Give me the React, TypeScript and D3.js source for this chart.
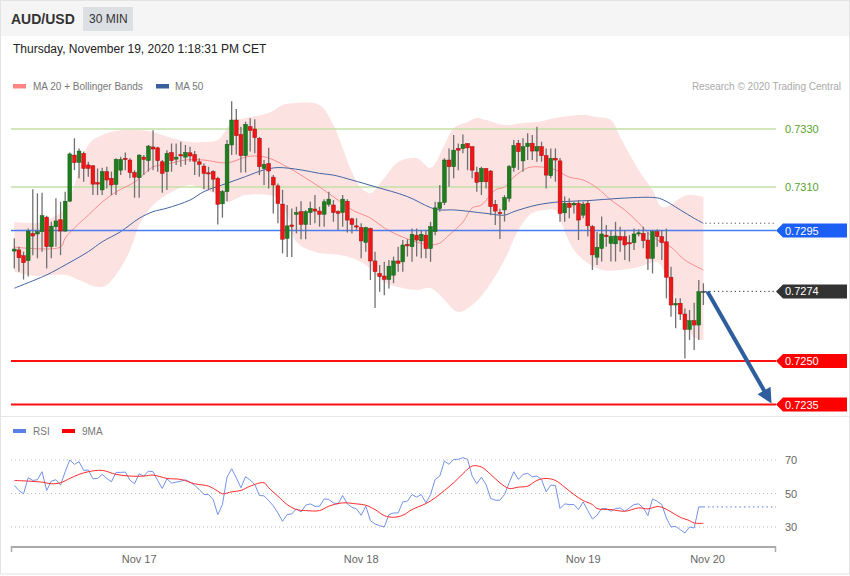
import React, { useEffect } from "react";
import * as d3 from "d3";

// ---------------- DATA ----------------
const candleOpen = [
  0.72879, 0.72883, 0.72863, 0.72846, 0.7294, 0.72938, 0.72946, 0.72996, 0.72894, 0.72963,
  0.72987, 0.72948, 0.73051, 0.7321, 0.73185, 0.73216, 0.73176, 0.73173, 0.73115, 0.7309,
  0.73153, 0.7313, 0.73109, 0.73158, 0.73199, 0.73193, 0.7315, 0.73132, 0.73203, 0.73191,
  0.73238, 0.73235, 0.73187, 0.73153, 0.73219, 0.73196, 0.73212, 0.73203, 0.73218, 0.73212,
  0.73187, 0.73172, 0.73149, 0.73153, 0.7313, 0.73042, 0.73084, 0.73245, 0.73331, 0.73281,
  0.73208, 0.73308, 0.733, 0.73268, 0.73164, 0.73181, 0.73134, 0.73104, 0.73041, 0.72923,
  0.72969, 0.73006, 0.73015, 0.72971, 0.73012, 0.73024, 0.73017, 0.73006, 0.7304, 0.73038,
  0.73015, 0.73012, 0.73051, 0.7299, 0.72966, 0.7296, 0.72909, 0.72957, 0.72845, 0.72802,
  0.72793, 0.72781, 0.72796, 0.72845, 0.72842, 0.72902, 0.72894, 0.72934, 0.72914, 0.72934,
  0.72888, 0.72946, 0.73026, 0.73047, 0.73193, 0.7317, 0.73233, 0.73233, 0.7325, 0.73239,
  0.7315, 0.73118, 0.73164, 0.73155, 0.7304, 0.73012, 0.73021, 0.73061, 0.73167, 0.73251,
  0.7319, 0.73239, 0.73251, 0.73224, 0.73239, 0.73208, 0.73139, 0.73199, 0.7319, 0.73011,
  0.73044, 0.73038, 0.73044, 0.73003, 0.73044, 0.72963, 0.72858, 0.72888, 0.72934, 0.72906,
  0.72904, 0.72929, 0.72929, 0.72908, 0.72908, 0.7294, 0.7294, 0.72917, 0.72854, 0.72946,
  0.72929, 0.72911, 0.72789, 0.72693, 0.72699, 0.72662, 0.72609, 0.72639, 0.72624, 0.7274,
];
const candleHigh = [
  0.72923, 0.72894, 0.72877, 0.72957, 0.73092, 0.73078, 0.7308, 0.73001, 0.7298, 0.73061,
  0.73049, 0.73084, 0.73219, 0.73268, 0.73233, 0.73222, 0.73187, 0.73176, 0.73164, 0.73166,
  0.7317, 0.73153, 0.73199, 0.73204, 0.73219, 0.73199, 0.73158, 0.73213, 0.7321, 0.73245,
  0.73296, 0.73239, 0.73193, 0.73227, 0.7325, 0.7325, 0.73256, 0.73245, 0.73239, 0.73224,
  0.73199, 0.73181, 0.7317, 0.73158, 0.73135, 0.7309, 0.73262, 0.73396, 0.73369, 0.73308,
  0.73325, 0.73337, 0.73334, 0.73273, 0.73193, 0.73235, 0.73141, 0.73112, 0.7309, 0.73038,
  0.73026, 0.73032, 0.73051, 0.7302, 0.73049, 0.73072, 0.73032, 0.73058, 0.73084, 0.73055,
  0.7302, 0.73072, 0.73058, 0.72994, 0.72992, 0.72975, 0.72963, 0.7296, 0.72877, 0.72831,
  0.72842, 0.72848, 0.7286, 0.72894, 0.72917, 0.7292, 0.72957, 0.72957, 0.72952, 0.72952,
  0.7298, 0.73049, 0.73107, 0.73199, 0.73233, 0.73279, 0.7325, 0.73281, 0.7325, 0.73239,
  0.7317, 0.7317, 0.73164, 0.73159, 0.73055, 0.73025, 0.73072, 0.73176, 0.73262, 0.73262,
  0.73268, 0.73285, 0.73279, 0.73308, 0.73256, 0.73233, 0.73233, 0.73233, 0.732, 0.73067,
  0.73061, 0.73049, 0.73055, 0.73049, 0.73055, 0.72969, 0.72946, 0.72998, 0.72969, 0.72952,
  0.7298, 0.72963, 0.72952, 0.72934, 0.72957, 0.72954, 0.72963, 0.72946, 0.72952, 0.72954,
  0.72952, 0.72957, 0.72825, 0.72716, 0.72716, 0.72681, 0.72676, 0.72701, 0.72779, 0.72768,
];
const candleLow = [
  0.72819, 0.72808, 0.72781, 0.72791, 0.72865, 0.72854, 0.72877, 0.72819, 0.72854, 0.72894,
  0.72865, 0.72946, 0.73049, 0.73158, 0.7313, 0.73118, 0.73135, 0.73072, 0.73072, 0.73072,
  0.73095, 0.73072, 0.73072, 0.73141, 0.73158, 0.7313, 0.73063, 0.73063, 0.73141, 0.73153,
  0.73158, 0.73153, 0.7308, 0.7309, 0.73153, 0.73176, 0.7317, 0.73176, 0.73187, 0.73141,
  0.73135, 0.73092, 0.7309, 0.73084, 0.72971, 0.72994, 0.73051, 0.7321, 0.73212, 0.7315,
  0.7315, 0.73222, 0.73216, 0.73141, 0.73107, 0.73095, 0.73009, 0.72975, 0.72871, 0.72859,
  0.72859, 0.7294, 0.7292, 0.7292, 0.72969, 0.72975, 0.72963, 0.72963, 0.73032, 0.7298,
  0.72952, 0.72963, 0.72943, 0.7294, 0.72952, 0.72854, 0.72877, 0.72779, 0.72683, 0.72739,
  0.72727, 0.7275, 0.72768, 0.72808, 0.72808, 0.7286, 0.72842, 0.7286, 0.72854, 0.72854,
  0.72842, 0.72934, 0.73015, 0.73038, 0.73101, 0.7313, 0.73158, 0.73216, 0.73158, 0.7313,
  0.73084, 0.73072, 0.73095, 0.73003, 0.72969, 0.72921, 0.72981, 0.73049, 0.73153, 0.73159,
  0.73153, 0.73193, 0.73193, 0.73187, 0.73187, 0.73095, 0.7313, 0.73118, 0.7298, 0.7298,
  0.72992, 0.73009, 0.72917, 0.72992, 0.72929, 0.72814, 0.72831, 0.72843, 0.72894, 0.72843,
  0.72843, 0.72877, 0.72848, 0.72843, 0.72883, 0.72929, 0.72889, 0.72814, 0.72802, 0.72894,
  0.72848, 0.72716, 0.72653, 0.72613, 0.72641, 0.72509, 0.72572, 0.72538, 0.72572, 0.72693,
];
const candleClose = [
  0.72886, 0.72856, 0.72839, 0.72948, 0.72931, 0.72946, 0.73001, 0.72894, 0.72965, 0.72983,
  0.72948, 0.73051, 0.73214, 0.73184, 0.73224, 0.73164, 0.73164, 0.7311, 0.7311, 0.73153,
  0.73124, 0.73107, 0.73195, 0.73195, 0.73195, 0.7315, 0.73134, 0.7321, 0.73195, 0.73241,
  0.73231, 0.73191, 0.73147, 0.73216, 0.73191, 0.73203, 0.73207, 0.73219, 0.73207, 0.73189,
  0.73178, 0.73147, 0.73146, 0.73127, 0.7304, 0.73084, 0.73247, 0.73331, 0.73277, 0.73208,
  0.73316, 0.73295, 0.7327, 0.7317, 0.73178, 0.73155, 0.73107, 0.73043, 0.7292, 0.72966,
  0.72964, 0.73012, 0.72971, 0.73015, 0.73026, 0.73017, 0.73006, 0.73049, 0.73058, 0.73012,
  0.73009, 0.73058, 0.72986, 0.72971, 0.72962, 0.72914, 0.7296, 0.72845, 0.72808, 0.72791,
  0.72781, 0.72827, 0.72845, 0.72837, 0.729, 0.72897, 0.72937, 0.72917, 0.72937, 0.72888,
  0.72963, 0.73028, 0.73047, 0.73193, 0.7317, 0.73227, 0.73227, 0.73247, 0.73235, 0.73158,
  0.73116, 0.73164, 0.73118, 0.73032, 0.73017, 0.73008, 0.73063, 0.7317, 0.73243, 0.73222,
  0.73239, 0.73251, 0.73224, 0.73239, 0.73208, 0.73141, 0.73199, 0.73193, 0.73009, 0.73044,
  0.7303, 0.73044, 0.72986, 0.73041, 0.72966, 0.72866, 0.72892, 0.72938, 0.72929, 0.72929,
  0.72931, 0.72917, 0.729, 0.72904, 0.72938, 0.72942, 0.72915, 0.72854, 0.72946, 0.72929,
  0.72908, 0.72789, 0.72693, 0.72699, 0.72662, 0.72609, 0.72639, 0.72624, 0.72739, 0.7274,
];

// Bollinger bands (MA 20) at sample candles
const upperIdx = [0, 5, 8, 11, 13, 16, 19, 24, 29, 34, 38, 41, 44, 46, 47, 50, 55, 58, 61, 66, 69, 71, 73, 75, 77, 80, 83, 87, 90, 93, 95, 98, 100, 102, 106, 110, 113, 117, 123, 126, 129, 131, 135, 138, 140, 142, 144, 146, 149];
const upperVal = [0.72979, 0.72976, 0.72993, 0.73028, 0.73107, 0.73245, 0.73279, 0.73297, 0.73293, 0.73269, 0.73255, 0.73255, 0.73262, 0.73303, 0.73324, 0.73338, 0.73355, 0.73383, 0.7339, 0.73383, 0.73314, 0.73234, 0.73152, 0.73097, 0.73079, 0.73131, 0.73186, 0.732, 0.73166, 0.73245, 0.73303, 0.73324, 0.73338, 0.73331, 0.73314, 0.73321, 0.73324, 0.73338, 0.73348, 0.73341, 0.73331, 0.73272, 0.73159, 0.7309, 0.73031, 0.73038, 0.73062, 0.73072, 0.73066];
const lowerIdx = [0, 5, 11, 14, 18, 20, 24, 26, 27, 30, 34, 38, 40, 44, 46, 50, 57, 59, 61, 65, 70, 73, 76, 80, 83, 87, 90, 92, 96, 99, 102, 106, 109, 112, 115, 117, 118, 121, 124, 127, 131, 135, 139, 141, 144, 147, 149];
const lowerVal = [0.72807, 0.72793, 0.72797, 0.72779, 0.72755, 0.72762, 0.72848, 0.72924, 0.72969, 0.73038, 0.73083, 0.73107, 0.73097, 0.73072, 0.73048, 0.73072, 0.73062, 0.73003, 0.7291, 0.72876, 0.72866, 0.72855, 0.72831, 0.72772, 0.72755, 0.72745, 0.72752, 0.72728, 0.72669, 0.72693, 0.72745, 0.72848, 0.72952, 0.7301, 0.73021, 0.73021, 0.72986, 0.72883, 0.72838, 0.72814, 0.72814, 0.72824, 0.72841, 0.7279, 0.72676, 0.72583, 0.72572];
const ma20Idx = [0, 10, 11, 13, 16, 19, 22, 26, 30, 33, 37, 41, 46, 50, 52, 55, 59, 62, 66, 70, 73, 77, 80, 83, 87, 90, 92, 94, 97, 99, 101, 104, 106, 108, 111, 114, 117, 120, 123, 126, 129, 132, 135, 138, 142, 145, 149];
const ma20Val = [0.72893, 0.72893, 0.72924, 0.72959, 0.73003, 0.73048, 0.73083, 0.73117, 0.73169, 0.73179, 0.73193, 0.73193, 0.73183, 0.73203, 0.73207, 0.732, 0.73169, 0.73141, 0.731, 0.73055, 0.73021, 0.72993, 0.72959, 0.72934, 0.7291, 0.729, 0.72907, 0.72934, 0.72979, 0.73028, 0.73038, 0.7309, 0.731, 0.73134, 0.73166, 0.73169, 0.73159, 0.73134, 0.73124, 0.73097, 0.73055, 0.73021, 0.72976, 0.72928, 0.72893, 0.72848, 0.72814];
const ma50Idx = [0, 7, 11, 16, 19, 23, 27, 30, 33, 38, 41, 46, 50, 54, 57, 62, 66, 69, 73, 78, 85, 90, 92, 95, 102, 106, 108, 113, 118, 124, 131, 138, 140, 144, 147, 149];
const ma50Val = [0.72751, 0.72797, 0.72831, 0.72877, 0.72911, 0.72946, 0.72992, 0.73015, 0.73027, 0.73055, 0.73084, 0.73113, 0.73136, 0.73159, 0.73167, 0.73159, 0.73147, 0.73141, 0.73124, 0.73101, 0.73067, 0.73029, 0.73021, 0.73021, 0.73009, 0.73003, 0.73015, 0.73038, 0.73049, 0.73053, 0.73061, 0.73064, 0.73058, 0.73021, 0.72992, 0.72975];

// RSI (one value per candle) and its 9-period MA (sampled)
const rsiValues = [
  54.8, 51.8, 49.8, 59.4, 57.8, 58.2, 63, 51.8, 57.4, 58.2,
  55, 63, 70, 67.4, 69, 63.8, 64, 58.8, 59, 61.4,
  59, 57, 62.6, 62.6, 62.8, 58, 55.8, 61.8, 60.4, 63.4,
  63, 57.8, 53, 58.8, 56.2, 56.8, 57.4, 58.2, 56.8, 54.8,
  52.4, 49.4, 49.4, 46.4, 37.4, 43.4, 59.8, 64.8, 59.4, 53.4,
  60, 58, 55.4, 48.8, 48.6, 45.8, 42.6, 38.4, 33.4, 37.4,
  37.8, 40.8, 39, 43, 43.8, 42.4, 42.4, 46.8, 46.4, 44.4,
  43.8, 48.8, 43.8, 41.8, 40.8, 37, 42.4, 33.8, 31.8, 30.8,
  30, 37.4, 38.4, 38.4, 45, 45.4, 49.4, 47.8, 49.4, 44.4,
  49.4, 58.4, 60.4, 69.4, 67.4, 70.4, 70.4, 71.4, 70.4, 60.4,
  55.8, 59.8, 55.4, 47, 46, 46, 49.4, 56.4, 63, 58.4,
  61.4, 62, 60, 60.4, 58.4, 51, 55, 54.8, 41, 43.8,
  43.4, 43.4, 40.4, 45, 39.8, 34.8, 37, 41, 41, 39.4,
  41, 41.4, 39.4, 41.4, 43.4, 43.8, 41.4, 36.8, 46.8, 45.4,
  43.4, 35.4, 30, 30.4, 28.4, 26.4, 30, 29.4, 42, 42,
];
const rsiMaIdx = [0, 3, 6, 8, 10, 12, 14, 16, 19, 22, 25, 28, 30, 33, 36, 39, 42, 44, 45, 47, 49, 51, 54, 55, 57, 59, 61, 63, 66, 68, 71, 74, 76, 78, 80, 82, 84, 86, 89, 91, 93, 95, 97, 99, 101, 103, 105, 107, 109, 111, 113, 115, 117, 119, 121, 123, 125, 126, 129, 132, 135, 137, 139, 140, 142, 144, 146, 147, 149];
const rsiMaVal = [57.8, 57.4, 56.8, 55.8, 56.4, 59, 61.4, 63, 63.8, 61.4, 60.4, 60.4, 61, 59, 58.4, 55.8, 54.4, 51.4, 49.8, 51, 51.8, 54.4, 56.4, 53.4, 48.4, 43.4, 40.4, 39.8, 39.8, 42.4, 44.4, 43.8, 43, 40.4, 36.8, 35.8, 37, 40.4, 44, 47.4, 51.8, 56.4, 61.8, 66.4, 65.8, 61.4, 56.4, 53, 53.8, 54.4, 57.8, 59, 57.8, 53.8, 49.4, 45.8, 43.4, 41, 40.4, 39.4, 41.4, 40.8, 42.2, 41.8, 39, 35.8, 33.8, 32.4, 32.2];

// Levels
const resistanceLevels = [0.733, 0.731];
const pivotLevel = 0.7295;
const lastPrice = 0.7274;
const supportLevels = [0.725, 0.7235];
const rsiTicks = [70, 50, 30];
const xTickIndex = [27, 75, 123, 149.9];
const xTickLabels = ["Nov 17", "Nov 18", "Nov 19", "Nov 20"];

// ---------------- CHART ----------------
const W = 850;
const H = 576;
const FONT = "'Liberation Sans', Arial, Helvetica, sans-serif";

function LabelBox({ yc, text, fill }: { yc: number; text: string; fill: string }) {
  const x0 = 776;
  const pts = [
    [x0, yc],
    [x0 + 7, yc - 7],
    [847, yc - 7],
    [847, yc + 7],
    [x0 + 7, yc + 7],
  ]
    .map((p) => p.join(","))
    .join(" ");
  return (
    <g>
      <polygon points={pts} fill={fill} />
      <text x={785} y={yc + 4} fontSize={11} fill="#fff" fontFamily={FONT}>
        {text}
      </text>
    </g>
  );
}

export default function App() {
  useEffect(() => {
    document.body.style.margin = "0";
  }, []);

  const n = candleOpen.length;
  const x = d3.scaleLinear().domain([0, n - 1]).range([14.3, 703.4]);
  const y = d3.scaleLinear().domain([0.7235, 0.733]).range([404.5, 129]);
  const yr = d3.scaleLinear().domain([30, 70]).range([527, 460]);
  const L = 11;
  const R = 776;

  const lineGen = d3.line<[number, number]>().curve(d3.curveCatmullRom.alpha(0.5));
  const upPts: [number, number][] = upperIdx.map((d, k) => [x(d), y(upperVal[k])]);
  const loPts: [number, number][] = lowerIdx.map((d, k) => [x(d), y(lowerVal[k])] as [number, number]).reverse();
  const upPath = lineGen(upPts) || "";
  const loPath = lineGen(loPts) || "";
  const bandPath = upPath + "L" + loPath.slice(1) + "Z";
  const ma20Path = lineGen(ma20Idx.map((d, k) => [x(d), y(ma20Val[k])] as [number, number])) || "";
  const ma50Path = lineGen(ma50Idx.map((d, k) => [x(d), y(ma50Val[k])] as [number, number])) || "";

  const rsiLine = d3.line<number>().x((_, i) => x(i)).y((v) => yr(v));
  const rsiPath = rsiLine(rsiValues) || "";
  const rsiMaPath =
    lineGen(rsiMaIdx.map((d, k) => [x(d), yr(rsiMaVal[k])] as [number, number])) || "";

  const lastX = x(n - 1);
  const ma50Last = y(ma50Val[ma50Val.length - 1]);
  const rsiLast = yr(rsiValues[rsiValues.length - 1]);

  // forecast arrow
  const ax0 = lastX + 4;
  const ay0 = y(lastPrice);
  const ax1 = R - 4.5;
  const ay1 = y(supportLevels[1]) - 1;
  const dx = ax1 - ax0;
  const dy = ay1 - ay0;
  const len = Math.sqrt(dx * dx + dy * dy);
  const ux = dx / len;
  const uy = dy / len;
  const headL = 15;
  const headW = 7.5;
  const bx = ax1 - ux * headL;
  const by = ay1 - uy * headL;
  const headPts = [
    [ax1, ay1],
    [bx - uy * headW, by + ux * headW],
    [bx + uy * headW, by - ux * headW],
  ]
    .map((p) => p.join(","))
    .join(" ");

  const green = "#1f7d1f";
  const red = "#ee1616";

  return (
    <svg
      width={W}
      height={H}
      viewBox={`0 0 ${W} ${H}`}
      style={{ position: "absolute", left: 0, top: 0, display: "block", background: "#fff" }}
      fontFamily={FONT}
    >
      {/* header */}
      <rect x={0} y={0} width={W} height={36} fill="#f5f5f5" />
      <text x={11} y={24} fontSize={14} fontWeight="bold" fill="#333">
        AUD/USD
      </text>
      <rect x={83} y={7} width={50} height={24} fill="#dcdfe4" />
      <text x={89} y={23} fontSize={12} fill="#333">
        30 MIN
      </text>
      <text x={13} y={53} fontSize={12} fill="#222">
        Thursday, November 19, 2020 1:18:31 PM CET
      </text>

      {/* legend */}
      <rect x={13} y={84} width={13} height={4.5} fill="#ff8585" />
      <text x={33} y={90} fontSize={10} fill="#777">
        MA 20 + Bollinger Bands
      </text>
      <rect x={156} y={84} width={13} height={4.5} fill="#3a5f9f" />
      <text x={175} y={90} fontSize={10} fill="#777">
        MA 50
      </text>
      <text x={841} y={90} fontSize={10} fill="#aaa" textAnchor="end">
        Research © 2020 Trading Central
      </text>

      {/* Bollinger band */}
      <path d={bandPath} fill="#fde2e2" stroke="none" />

      {/* resistance levels */}
      {resistanceLevels.map((lv) => (
        <g key={lv}>
          <line x1={L} x2={R} y1={y(lv)} y2={y(lv)} stroke="#c3e1a6" strokeWidth={1.5} />
          <text x={785} y={y(lv) + 4} fontSize={11} fill="#5aa22c">
            {lv.toFixed(4)}
          </text>
        </g>
      ))}

      {/* MA lines */}
      <path d={ma20Path} fill="none" stroke="#ff8c8c" strokeWidth={1} />
      <path d={ma50Path} fill="none" stroke="#4265a5" strokeWidth={1} />

      {/* pivot */}
      <line x1={L} x2={R} y1={y(pivotLevel)} y2={y(pivotLevel)} stroke="#4a7ef0" strokeWidth={1.5} />

      {/* supports */}
      {supportLevels.map((lv) => (
        <line key={lv} x1={L} x2={R} y1={y(lv)} y2={y(lv)} stroke="#ff1010" strokeWidth={2} />
      ))}

      {/* candles */}
      {candleOpen.map((o, i) => {
        const c = candleClose[i];
        const cx = x(i);
        const top = y(Math.max(o, c));
        const bot = y(Math.min(o, c));
        const col = c > o ? green : c < o ? red : "#444";
        const stroke = c > o ? "#155c15" : c < o ? "#a80e0e" : "#444";
        return (
          <g key={i}>
            <line x1={cx} x2={cx} y1={y(candleHigh[i])} y2={y(candleLow[i])} stroke="#707070" strokeWidth={1.3} />
            <rect
              x={cx - 1.9}
              y={top}
              width={3.8}
              height={Math.max(1.2, bot - top)}
              fill={col}
              stroke={stroke}
              strokeWidth={0.5}
            />
          </g>
        );
      })}

      {/* dotted extensions */}
      <line x1={lastX + 2} x2={R} y1={ma50Last} y2={ma50Last} stroke="#555" strokeWidth={1} strokeDasharray="1.2,3" />
      <line x1={lastX + 2} x2={R} y1={y(lastPrice)} y2={y(lastPrice)} stroke="#333" strokeWidth={1} strokeDasharray="1.2,3" />

      {/* forecast arrow */}
      <line x1={ax0} y1={ay0} x2={bx + ux * 2} y2={by + uy * 2} stroke="#2f5e9e" strokeWidth={4} />
      <polygon points={headPts} fill="#2f5e9e" />

      {/* label boxes */}
      <LabelBox yc={y(pivotLevel)} text={pivotLevel.toFixed(4)} fill="#1b5ff5" />
      <LabelBox yc={y(lastPrice)} text={lastPrice.toFixed(4)} fill="#333333" />
      {supportLevels.map((lv) => (
        <LabelBox key={lv} yc={y(lv)} text={lv.toFixed(4)} fill="#ff0000" />
      ))}

      {/* separator */}
      <line x1={0} x2={W} y1={416.5} y2={416.5} stroke="#e6e6e6" strokeWidth={1} />

      {/* RSI legend */}
      <rect x={13} y={429} width={13} height={4} fill="#5b7fe8" />
      <text x={33} y={435} fontSize={10} fill="#777">
        RSI
      </text>
      <rect x={62} y={429} width={13} height={4} fill="#ff0000" />
      <text x={82} y={435} fontSize={10} fill="#777">
        9MA
      </text>

      {/* RSI grid */}
      {rsiTicks.map((t) => (
        <g key={t}>
          <line x1={L} x2={R} y1={yr(t)} y2={yr(t)} stroke="#bdbdbd" strokeWidth={1} strokeDasharray="1,3" />
          <text x={785} y={yr(t) + 4} fontSize={11} fill="#666">
            {t}
          </text>
        </g>
      ))}

      {/* RSI lines */}
      <path d={rsiPath} fill="none" stroke="#7393ea" strokeWidth={1} />
      <path d={rsiMaPath} fill="none" stroke="#ff2a2a" strokeWidth={1} />
      <line x1={lastX} x2={R} y1={rsiLast} y2={rsiLast} stroke="#5577ee" strokeWidth={1} strokeDasharray="1.5,3" />

      {/* x axis */}
      <line x1={L} x2={R} y1={547} y2={547} stroke="#aaa" strokeWidth={2} />
      <line x1={L + 0.5} x2={L + 0.5} y1={546} y2={552} stroke="#aaa" strokeWidth={1.5} />
      <line x1={R - 0.5} x2={R - 0.5} y1={546} y2={552} stroke="#aaa" strokeWidth={1.5} />
      {xTickIndex.map((ti, k) => (
        <text key={k} x={x(ti)} y={563} fontSize={11} fill="#666" textAnchor="middle">
          {xTickLabels[k]}
        </text>
      ))}

      {/* frame */}
      <rect x={0.5} y={0.5} width={W - 1} height={H - 2.5} fill="none" stroke="#e3e3e3" strokeWidth={1} />
    </svg>
  );
}
